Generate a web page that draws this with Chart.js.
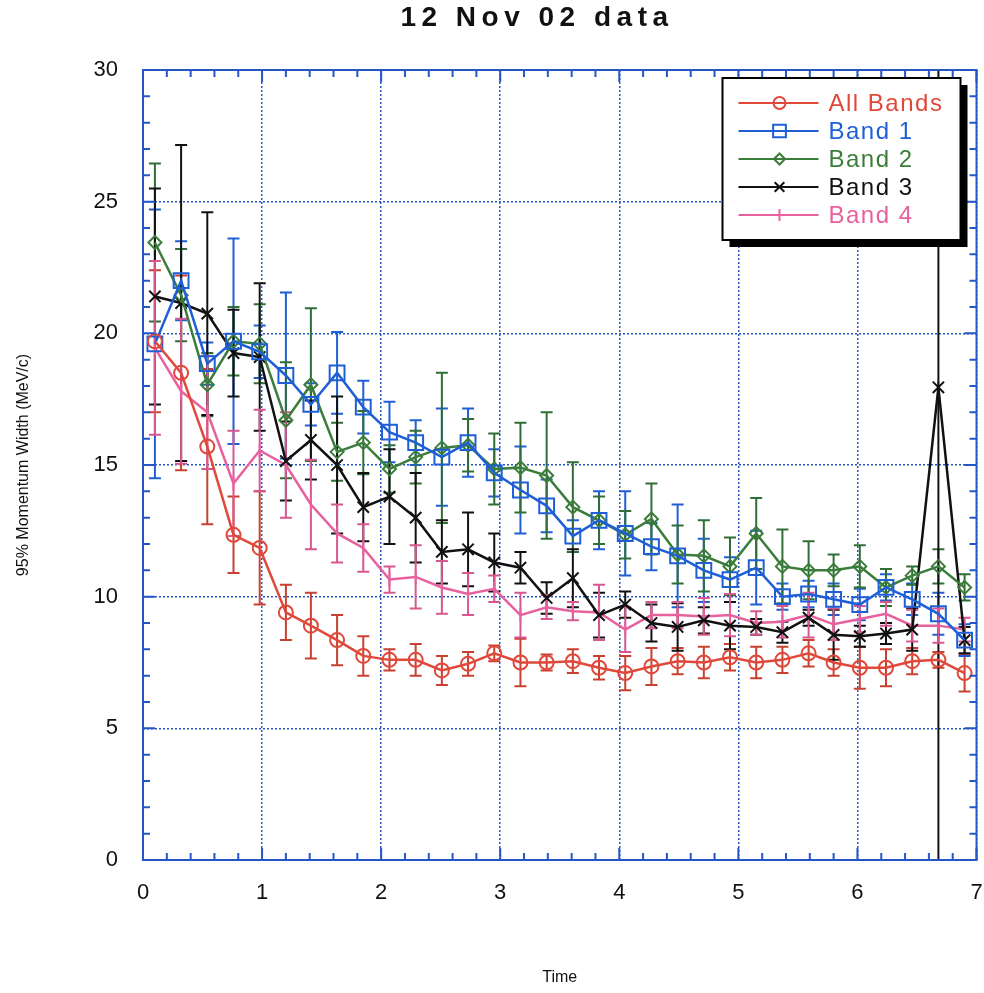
<!DOCTYPE html>
<html lang="en">
<head>
    <meta charset="UTF-8">
    <title>12 Nov 02 data</title>
    <script src="https://cdn.jsdelivr.net/npm/chart.js"></script>
    <style>
        html, body {
            margin: 0;
            padding: 0;
            background: #ffffff;
            overflow: hidden;
            font-family: "Liberation Sans", Arial, sans-serif;
        }
        .wrap {
            position: relative;
            width: 984px;
            height: 993px;
            overflow: hidden;
        }
        .title {
            position: absolute;
            top: 1px;
            left: 537px;
            transform: translateX(-50%);
            font-size: 28px;
            font-weight: bold;
            letter-spacing: 5.5px;
            white-space: nowrap;
            color: #111;
        }
    </style>
</head>
<body>
<div class="wrap">
    <div class="title">12 Nov 02 data</div>
    <canvas id="momChart" width="989" height="993"></canvas>
</div>

<script>
// time of each point (x axis)
const timeX = [0.10, 0.32, 0.54, 0.76, 0.98, 1.20, 1.41, 1.63, 1.85, 2.07, 2.29, 2.51, 2.73, 2.95, 3.17, 3.39,
               3.61, 3.83, 4.05, 4.27, 4.49, 4.71, 4.93, 5.15, 5.37, 5.59, 5.80, 6.02, 6.24, 6.46, 6.68, 6.90];

// 95% momentum width (MeV/c) and its error, per band
const allBands    = [19.7, 18.5, 15.7, 12.35, 11.85, 9.4, 8.9, 8.35, 7.75, 7.6, 7.6, 7.2, 7.45, 7.85, 7.5, 7.5,
                     7.55, 7.3, 7.1, 7.35, 7.55, 7.5, 7.7, 7.5, 7.6, 7.85, 7.5, 7.3, 7.3, 7.55, 7.6, 7.1];
const allBandsErr = [2.7, 3.7, 2.95, 1.45, 2.15, 1.05, 1.25, 0.95, 0.75, 0.4, 0.6, 0.55, 0.45, 0.3, 0.9, 0.3,
                     0.45, 0.45, 0.65, 0.7, 0.5, 0.6, 0.5, 0.6, 0.5, 0.5, 0.5, 0.8, 0.7, 0.5, 0.3, 0.7];

const band1    = [19.6, 22.0, 18.85, 19.7, 19.3, 18.4, 17.3, 18.5, 17.2, 16.25, 15.85, 15.3, 15.85, 14.7, 14.05, 13.45,
                  12.3, 12.9, 12.4, 11.9, 11.55, 11.0, 10.65, 11.1, 10.0, 10.1, 9.9, 9.7, 10.35, 9.9, 9.35, 8.35];
const band1Err = [5.1, 1.5, 0.8, 3.9, 1.0, 3.15, 0.8, 1.55, 1.0, 1.15, 0.85, 1.85, 1.3, 0.9, 1.65, 1.0,
                  0.6, 1.1, 1.6, 0.9, 1.95, 1.2, 0.85, 1.4, 0.5, 0.5, 0.6, 0.6, 0.5, 0.6, 0.8, 0.6];

const band2    = [23.45, 21.45, 18.05, 19.7, 19.6, 16.7, 18.05, 15.5, 15.85, 14.85, 15.3, 15.65, 15.75, 14.85, 14.9, 14.6,
                  13.4, 12.9, 12.35, 12.95, 11.6, 11.55, 11.15, 12.4, 11.15, 11.0, 11.0, 11.15, 10.35, 10.8, 11.15, 10.35];
const band2Err = [3.0, 1.75, 1.2, 1.3, 1.5, 2.2, 2.9, 1.1, 1.2, 0.9, 1.0, 2.85, 1.0, 1.35, 1.7, 2.4,
                  1.7, 0.9, 0.9, 1.35, 1.1, 1.35, 1.1, 1.35, 1.4, 1.1, 0.6, 0.8, 0.7, 0.35, 0.65, 0.5];

const band3    = [21.4, 21.15, 20.75, 19.25, 19.1, 15.15, 15.95, 15.0, 13.4, 13.8, 13.0, 11.7, 11.8, 11.3, 11.1, 9.95,
                  10.7, 9.3, 9.7, 9.0, 8.85, 9.1, 8.9, 8.85, 8.65, 9.2, 8.55, 8.5, 8.6, 8.75, 17.95, 8.35];
const band3Err = [4.1, 6.0, 3.85, 1.65, 2.8, 1.5, 1.5, 2.6, 1.3, 1.8, 1.7, 1.2, 1.4, 1.1, 0.6, 0.6,
                  1.1, 0.85, 0.5, 0.7, 0.9, 0.5, 0.9, 0.3, 0.4, 0.3, 0.95, 0.4, 0.4, 0.8, 19.0, 0.5];

const band4    = [19.45, 17.8, 17.0, 14.3, 15.55, 15.0, 13.5, 12.4, 11.85, 10.65, 10.75, 10.35, 10.1, 10.3, 9.3, 9.6,
                  9.45, 9.4, 8.75, 9.3, 9.3, 9.25, 9.3, 9.0, 9.05, 9.3, 8.95, 9.15, 9.35, 8.9, 8.9, 8.75];
const band4Err = [3.3, 2.75, 2.15, 2.0, 1.55, 2.0, 1.7, 1.1, 0.9, 0.5, 1.2, 1.0, 0.8, 0.5, 0.85, 0.45,
                  0.35, 1.05, 0.85, 0.5, 0.5, 0.7, 0.8, 0.45, 0.6, 0.85, 0.6, 0.5, 0.45, 0.6, 0.65, 0.45];

const seriesNames = ['All Bands', 'Band 1', 'Band 2', 'Band 3', 'Band 4'];
const yTicks = [0, 5, 10, 15, 20, 25, 30];
const xTicks = [0, 1, 2, 3, 4, 5, 6, 7];

const axisBlue = '#2457c5';
const fontFam = '"Liberation Sans", Arial, sans-serif';

function pts(ys) {
    return ys.map((y, i) => ({ x: timeX[i], y: y }));
}

function makeSet(label, ys, errs, color, barColor, style, radius) {
    return {
        label: label,
        data: pts(ys),
        errors: errs,
        barColor: barColor,
        borderColor: color,
        backgroundColor: 'rgba(0,0,0,0)',
        borderWidth: 2.5,
        pointStyle: style,
        pointRadius: radius,
        pointBorderWidth: 2,
        pointBorderColor: color,
        pointBackgroundColor: 'rgba(0,0,0,0)',
        pointRotation: style === 'line' ? 90 : 0,
        tension: 0
    };
}

// error bars, drawn through the chart's own scales
const errorBars = {
    id: 'errorBars',
    beforeDatasetsDraw(chart) {
        const { ctx, chartArea, scales } = chart;
        ctx.save();
        ctx.beginPath();
        ctx.rect(chartArea.left, chartArea.top, chartArea.width, chartArea.height);
        ctx.clip();
        chart.data.datasets.forEach(ds => {
            ctx.strokeStyle = ds.barColor;
            ctx.lineWidth = 2;
            ds.data.forEach((p, i) => {
                const e = ds.errors[i];
                const px = scales.x.getPixelForValue(p.x);
                const top = scales.y.getPixelForValue(p.y + e);
                const bot = scales.y.getPixelForValue(p.y - e);
                ctx.beginPath();
                ctx.moveTo(px, top); ctx.lineTo(px, bot);
                ctx.moveTo(px - 6, top); ctx.lineTo(px + 6, top);
                ctx.moveTo(px - 6, bot); ctx.lineTo(px + 6, bot);
                ctx.stroke();
            });
        });
        ctx.restore();
    }
};

// blue frame with inward major/minor ticks on all four sides
const frame = {
    id: 'frame',
    afterDatasetsDraw(chart) {
        const { ctx, chartArea: a, scales } = chart;
        ctx.save();
        ctx.strokeStyle = axisBlue;
        ctx.lineWidth = 2;
        ctx.strokeRect(a.left, a.top, a.width, a.height);
        ctx.beginPath();
        for (let v = 0; v <= 30; v++) {
            const y = scales.y.getPixelForValue(v);
            const len = v % 5 === 0 ? 12 : 7;
            ctx.moveTo(a.left, y); ctx.lineTo(a.left + len, y);
            ctx.moveTo(a.right, y); ctx.lineTo(a.right - len, y);
        }
        for (let k = 0; k <= 35; k++) {
            const x = scales.x.getPixelForValue(k / 5);
            const len = k % 5 === 0 ? 12 : 7;
            ctx.moveTo(x, a.bottom); ctx.lineTo(x, a.bottom - len);
            ctx.moveTo(x, a.top); ctx.lineTo(x, a.top + len);
        }
        ctx.stroke();
        ctx.restore();
    }
};

// boxed legend with drop shadow in the top right corner
const boxLegend = {
    id: 'boxLegend',
    afterDraw(chart) {
        const { ctx, chartArea: a } = chart;
        const w = 238, h = 162;
        const left = a.right - 16 - w, top = a.top + 8;
        ctx.save();
        ctx.fillStyle = '#000';
        ctx.fillRect(left + 7, top + 7, w, h);
        ctx.fillStyle = '#fff';
        ctx.fillRect(left, top, w, h);
        ctx.strokeStyle = '#000';
        ctx.lineWidth = 2;
        ctx.strokeRect(left, top, w, h);
        ctx.font = '24px ' + fontFam;
        ctx.textBaseline = 'middle';
        if ('letterSpacing' in ctx) ctx.letterSpacing = '1.5px';
        chart.data.datasets.forEach((ds, i) => {
            const y = top + 25 + i * 28;
            ctx.strokeStyle = ds.borderColor;
            ctx.lineWidth = 2;
            ctx.beginPath();
            ctx.moveTo(left + 16, y); ctx.lineTo(left + 96, y);
            ctx.stroke();
            ctx.fillStyle = 'rgba(0,0,0,0)';
            Chart.helpers.drawPoint(ctx, {
                pointStyle: ds.pointStyle,
                radius: ds.pointStyle === 'rect' ? 9 : ds.pointRadius * 0.85,
                rotation: ds.pointRotation,
                borderWidth: 2
            }, left + 57, y);
            ctx.fillStyle = ds.borderColor;
            ctx.fillText(ds.label, left + 106, y + 1);
        });
        ctx.restore();
    }
};

const ctx = document.getElementById('momChart').getContext('2d');
new Chart(ctx, {
    type: 'line',
    data: {
        datasets: [
            makeSet(seriesNames[0], allBands, allBandsErr, '#e0483a', '#c8402f', 'circle', 7),
            makeSet(seriesNames[1], band1, band1Err, '#1f5fd6', '#1f5fd6', 'rect', 10.5),
            makeSet(seriesNames[2], band2, band2Err, '#3b7d3b', '#2f6e35', 'rectRot', 6.5),
            makeSet(seriesNames[3], band3, band3Err, '#111111', '#111111', 'crossRot', 8),
            makeSet(seriesNames[4], band4, band4Err, '#e8609e', '#d75890', 'line', 7)
        ]
    },
    options: {
        responsive: false,
        animation: false,
        layout: { padding: { top: 70, right: 0, left: 0, bottom: 0 } },
        plugins: {
            legend: { display: false },
            title: { display: false },
            tooltip: { enabled: false }
        },
        scales: {
            x: {
                type: 'linear',
                min: 0,
                max: 7,
                afterFit: s => { s.height = 133; s.paddingLeft = 0; s.paddingRight = 0; },
                afterBuildTicks: s => { s.ticks = xTicks.map(v => ({ value: v })); },
                ticks: {
                    stepSize: 1,
                    color: '#111',
                    padding: 20,
                    maxRotation: 0,
                    font: { size: 22, family: fontFam }
                },
                grid: { color: axisBlue, lineWidth: 1.5, drawTicks: false },
                border: { display: false, dash: [2, 2] },
                title: {
                    display: true,
                    text: 'Time',
                    color: '#111',
                    padding: { top: 0, bottom: 6 },
                    font: { size: 16, family: fontFam }
                }
            },
            y: {
                min: 0,
                max: 30,
                afterFit: s => { s.width = 143; },
                afterBuildTicks: s => { s.ticks = yTicks.map(v => ({ value: v })); },
                ticks: {
                    stepSize: 5,
                    color: '#111',
                    padding: 25,
                    font: { size: 22, family: fontFam }
                },
                grid: { color: axisBlue, lineWidth: 1.5, drawTicks: false },
                border: { display: false, dash: [2, 2] },
                title: {
                    display: true,
                    text: '95% Momentum Width (MeV/c)',
                    color: '#111',
                    padding: { top: 14, bottom: 0 },
                    font: { size: 16, family: fontFam }
                }
            }
        }
    },
    plugins: [errorBars, frame, boxLegend]
});
</script>
</body>
</html>
